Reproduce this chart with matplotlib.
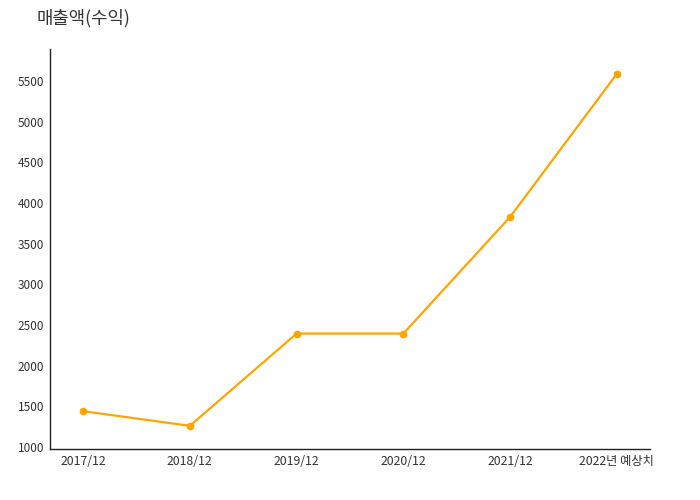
import matplotlib
matplotlib.use('Agg')
import matplotlib.pyplot as plt

plt.rcParams['font.family'] = ['Noto Sans CJK KR', 'DejaVu Sans']

# data
periods = ['2017/12', '2018/12', '2019/12', '2020/12', '2021/12', '2022년 예상치']
revenue = [1440, 1260, 2395, 2395, 3830, 5590]
y_ticks = [1000, 1500, 2000, 2500, 3000, 3500, 4000, 4500, 5000, 5500]

fig = plt.figure(figsize=(7, 5), dpi=100)
ax = fig.add_axes([50 / 700, 51 / 500, 600 / 700, 400 / 500])

x = list(range(len(periods)))
ax.plot(x, revenue, color='#FFA500', linewidth=1.6, marker='o', markersize=4.5)

ax.set_xlim(-0.31, len(periods) - 1 + 0.31)
ax.set_ylim(975, 5895)
ax.set_xticks(x)
ax.set_xticklabels(periods, fontsize=8.8)
ax.set_yticks(y_ticks)

# only left and bottom axis lines, no tick marks
for side in ['top', 'right']:
    ax.spines[side].set_visible(False)
for side in ['left', 'bottom']:
    ax.spines[side].set_color('#222222')
    ax.spines[side].set_linewidth(1.0)
ax.tick_params(axis='both', length=0, labelsize=8.5, colors='#333333', pad=4)
ax.tick_params(axis='x', labelsize=8.8)

fig.text(37 / 700, 1 - 18 / 500, '매출액(수익)', fontsize=12.8, color='#333333',
         ha='left', va='center')

plt.savefig('out.png', dpi=100)
plt.close(fig)
